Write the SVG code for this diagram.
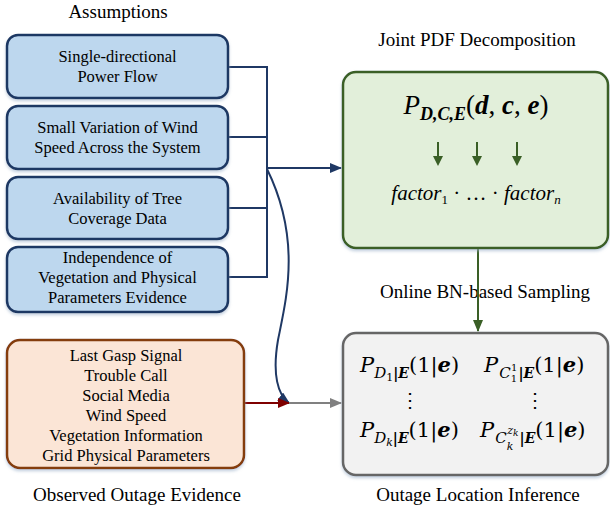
<svg xmlns="http://www.w3.org/2000/svg" width="610" height="510" viewBox="0 0 610 510">
<defs>
<style>
.lbl{font-family:"Liberation Serif",serif;font-size:19px;fill:#000;text-anchor:middle}
.bt{font-family:"Liberation Serif",serif;font-size:16.5px;fill:#000;text-anchor:middle}
.m{font-family:"Liberation Serif",serif;fill:#000}
.g{font-family:"DejaVu Serif",serif;fill:#000}
.i{font-style:italic}
.b{font-weight:bold;font-style:italic}
.blue{fill:#bdd7ee;stroke:#1f3864;stroke-width:2.5}
.navy{fill:none;stroke:#1f3864;stroke-width:2}
</style>
<filter id="sh" x="-10%" y="-10%" width="120%" height="130%">
<feDropShadow dx="0" dy="2" stdDeviation="1.5" flood-color="#9db3cc" flood-opacity="0.6"/>
</filter>
<marker id="aN" markerUnits="userSpaceOnUse" markerWidth="12" markerHeight="10" refX="11" refY="5" orient="auto"><path d="M0,0 L12,5 L0,10 z" fill="#1f3864"/></marker>
<marker id="aR" markerUnits="userSpaceOnUse" markerWidth="12" markerHeight="10" refX="11" refY="5" orient="auto"><path d="M0,0 L12,5 L0,10 z" fill="#7f0000"/></marker>
<marker id="aG" markerUnits="userSpaceOnUse" markerWidth="12" markerHeight="10" refX="11" refY="5" orient="auto"><path d="M0,0 L12,5 L0,10 z" fill="#808080"/></marker>
<marker id="aGr" markerUnits="userSpaceOnUse" markerWidth="12" markerHeight="10" refX="11" refY="5" orient="auto"><path d="M0,0 L12,5 L0,10 z" fill="#3a5f26"/></marker>
</defs>
<rect width="610" height="510" fill="#fff"/>

<text class="lbl" x="118" y="18">Assumptions</text>
<text class="lbl" x="477" y="46">Joint PDF Decomposition</text>
<text class="lbl" x="485" y="298">Online BN-based Sampling</text>
<text class="lbl" x="137" y="501">Observed Outage Evidence</text>
<text class="lbl" x="478" y="501">Outage Location Inference</text>

<g id="connectors">
<path class="navy" d="M228,67 H267 M228,137 H267 M228,208 H267 M228,277 H267 M267,66 V278"/>
<path class="navy" d="M267,168 H341" marker-end="url(#aN)"/>
<path class="navy" d="M267,169 C302,240 286,300 278,340 C272,375 278,395 289,403" marker-end="url(#aN)"/>
<path d="M244,403 H289" stroke="#7f0000" stroke-width="2" fill="none" marker-end="url(#aR)"/>
<path d="M289,403 H341" stroke="#808080" stroke-width="2" fill="none" marker-end="url(#aG)"/>
<path d="M478,248 V331" stroke="#3a5f26" stroke-width="2" fill="none" marker-end="url(#aGr)"/>
</g>

<g id="a1"><rect class="blue" x="7" y="35" width="221" height="63" rx="11" filter="url(#sh)"/>
<text class="bt" x="117.5" y="62">Single-directional</text><text class="bt" x="117.5" y="82">Power Flow</text></g>
<g id="a2"><rect class="blue" x="7" y="106" width="221" height="63" rx="11" filter="url(#sh)"/>
<text class="bt" x="117.5" y="133">Small Variation of Wind</text><text class="bt" x="117.5" y="153">Speed Across the System</text></g>
<g id="a3"><rect class="blue" x="7" y="177" width="221" height="62" rx="11" filter="url(#sh)"/>
<text class="bt" x="117.5" y="204">Availability of Tree</text><text class="bt" x="117.5" y="224">Coverage Data</text></g>
<g id="a4"><rect class="blue" x="7" y="247" width="221" height="65" rx="11" filter="url(#sh)"/>
<text class="bt" x="117.5" y="263">Independence of</text><text class="bt" x="117.5" y="283">Vegetation and Physical</text><text class="bt" x="117.5" y="303">Parameters Evidence</text></g>

<g id="evidence"><rect x="7" y="340" width="237" height="128" rx="13" fill="#fbe5d6" stroke="#843c0c" stroke-width="2.5" filter="url(#sh)"/>
<text class="bt" x="126" y="361">Last Gasp Signal</text>
<text class="bt" x="126" y="381">Trouble Call</text>
<text class="bt" x="126" y="401">Social Media</text>
<text class="bt" x="126" y="421">Wind Speed</text>
<text class="bt" x="126" y="441">Vegetation Information</text>
<text class="bt" x="126" y="461">Grid Physical Parameters</text></g>

<g id="joint"><rect x="343" y="72" width="265" height="176" rx="13" fill="#e2efda" stroke="#3a5f26" stroke-width="2.5" filter="url(#sh)"/>
<text class="m" x="476" y="114" text-anchor="middle" font-size="27"><tspan class="i">P</tspan><tspan class="b" font-size="18" dy="6">D,C,E</tspan><tspan dy="-6">(</tspan><tspan class="b">d</tspan>, <tspan class="b">c</tspan>, <tspan class="b">e</tspan>)</text>
<g stroke="#3a5f26" stroke-width="2"><path d="M438,142 V158 M477,142 V158 M517,142 V158"/></g>
<g fill="#3a5f26"><path d="M433,156 H443 L438,166 z M472,156 H482 L477,166 z M512,156 H522 L517,166 z"/></g>
<text class="m" x="476" y="200" text-anchor="middle" font-size="21"><tspan class="i">factor</tspan><tspan font-size="13" dy="4">1</tspan><tspan dy="-4"> · … · </tspan><tspan class="i">factor</tspan><tspan class="i" font-size="13" dy="4">n</tspan></text></g>

<g id="inference"><rect x="343" y="333" width="265" height="142" rx="13" fill="#f2f2f2" stroke="#666" stroke-width="2.5" filter="url(#sh)"/>
<text class="g" x="360" y="372" font-size="21"><tspan class="i">P</tspan><tspan class="i" font-size="15" dy="6">D</tspan><tspan font-size="11" dy="3">1</tspan><tspan class="b" font-size="14" dy="-3">|E</tspan><tspan dy="-6">(1|</tspan><tspan class="b">e</tspan>)</text>
<text class="g" x="484" y="372" font-size="21"><tspan class="i">P</tspan><tspan class="i" font-size="15" dx="1" dy="6">C</tspan><tspan font-size="10" dy="4">1</tspan><tspan font-size="10" dx="-6" dy="-11">1</tspan><tspan class="b" font-size="14" dx="1" dy="7">|E</tspan><tspan dy="-6">(1|</tspan><tspan class="b">e</tspan>)</text>
<text class="m" x="410" y="407" font-size="20" text-anchor="middle">⋮</text>
<text class="m" x="535" y="407" font-size="20" text-anchor="middle">⋮</text>
<text class="g" x="360" y="437" font-size="21"><tspan class="i">P</tspan><tspan class="i" font-size="15" dy="6">D</tspan><tspan class="i" font-size="11" dy="3">k</tspan><tspan class="b" font-size="14" dy="-3">|E</tspan><tspan dy="-6">(1|</tspan><tspan class="b">e</tspan>)</text>
<text class="g" x="480" y="437" font-size="21"><tspan class="i">P</tspan><tspan class="i" font-size="15" dx="1" dy="6">C</tspan><tspan class="i" font-size="11" dy="7">k</tspan><tspan class="i" font-size="11" dx="-6" dy="-16">z</tspan><tspan class="i" font-size="9" dy="2">k</tspan><tspan class="b" font-size="14" dx="1" dy="7">|E</tspan><tspan dy="-6">(1|</tspan><tspan class="b">e</tspan>)</text></g>
</svg>
